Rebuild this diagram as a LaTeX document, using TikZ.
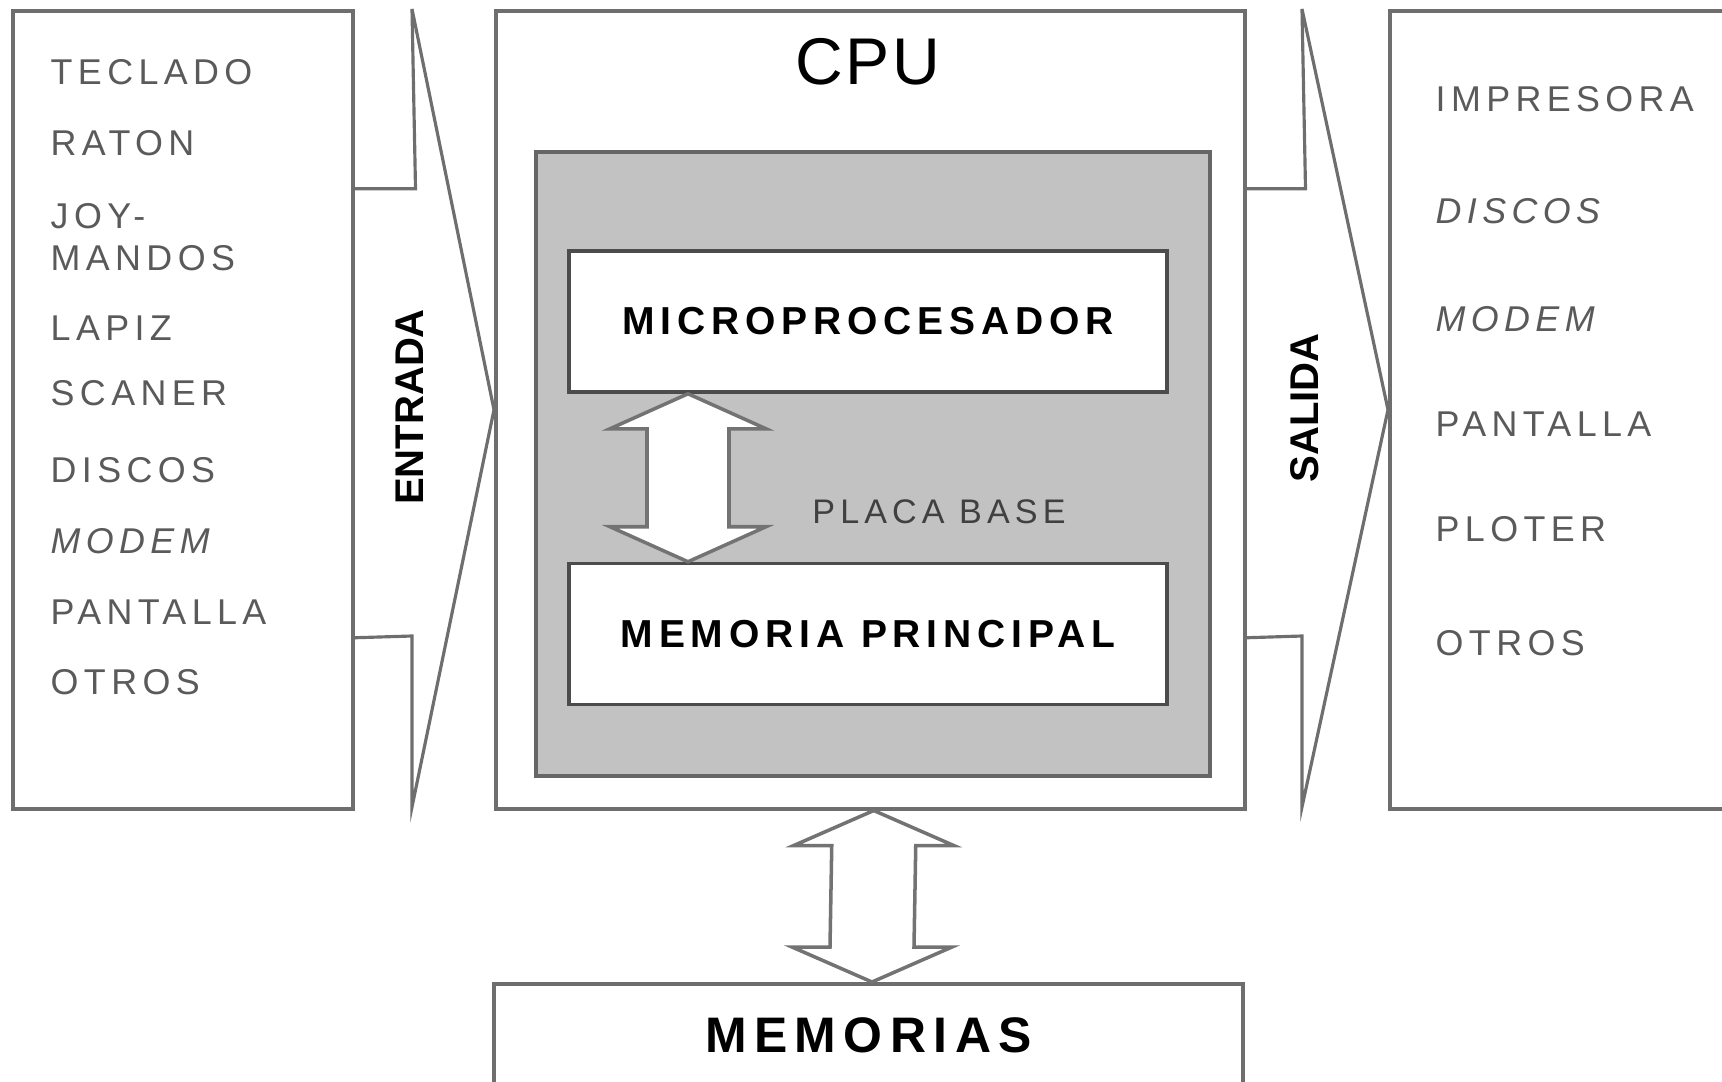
\documentclass[tikz,border=0pt]{standalone}
\usepackage{fontspec}
\setmainfont{Liberation Sans}[LetterSpace=15]
\newfontfamily\cpufont{Liberation Sans}[LetterSpace=4]
\newfontfamily\plainfont{Liberation Sans}
\definecolor{edge}{HTML}{6E6E6E}
\definecolor{plate}{HTML}{C2C2C2}
\definecolor{itemtxt}{HTML}{5A5A5A}
\begin{document}
\begin{tikzpicture}[
    box/.style   ={draw=edge, line width=1pt, fill=white},
    inbox/.style ={draw=black!70, line width=1pt, fill=white, minimum width=5.98cm, minimum height=1.41cm,
                   font=\fontsize{11.1}{13}\selectfont\bfseries},
    item/.style  ={anchor=west, inner sep=0pt, text=itemtxt, font=\fontsize{10.2}{12}\selectfont, align=left},
    flow/.style  ={draw=edge, line width=0.9pt, line join=miter},
    dblarr/.style={draw=black!55, line width=1pt, fill=white, line join=miter},
    vlabel/.style={rotate=90, inner sep=0pt, font=\plainfont\fontsize{11.4}{13}\selectfont\bfseries},
  ]
  \useasboundingbox (0,0) rectangle (17.22,-10.82);
  \clip (0,0) rectangle (17.22,-10.82);
  % outer boxes
  \node[box, anchor=north west, minimum width=3.40cm, minimum height=7.98cm] (inp) at (0.11,-0.09) {};
  \node[box, anchor=north west, minimum width=7.49cm, minimum height=7.98cm] (cpu) at (4.94,-0.09) {};
  \node[box, anchor=north west, minimum width=4.00cm, minimum height=7.98cm] (out) at (13.88,-0.09) {};
  \node[box, anchor=north, minimum width=7.49cm, minimum height=1.04cm, font=\fontsize{14.2}{16}\selectfont\bfseries] (mem) at (8.685,-9.82) {MEMORIAS};
  \node[font=\cpufont\fontsize{18.8}{22}\selectfont, text=black, inner sep=0pt] (cpulbl) at (8.68,-0.62) {CPU};

  % placa base
  \node[draw=black!60, line width=1pt, fill=plate, anchor=north west, minimum width=6.74cm, minimum height=6.24cm] (placa) at (5.34,-1.50) {};
  \node[inbox] (micro) at (8.68,-3.215) {MICROPROCESADOR};
  \node[inbox] (memp) at (8.68,-6.34) {MEMORIA PRINCIPAL};
  \node[font=\fontsize{9.7}{12}\selectfont, text=black!75, inner sep=0pt] (placalbl) at (9.39,-5.12) {PLACA BASE};

  % big double arrows
  \coordinate (a1) at ([xshift=-1.8cm]micro.south);
  \coordinate (a2) at ([xshift=-1.8cm]memp.north);
  \draw[dblarr] (a1) -- ++(0.78,-0.35) -- ++(-0.37,0) -- ([xshift=0.41cm,yshift=0.35cm]a2) -- ++(0.37,0) -- (a2)
    -- ++(-0.78,0.35) -- ++(0.37,0) -- ([xshift=-0.41cm,yshift=-0.35cm]a1) -- ++(-0.37,0) -- cycle;
  \coordinate (b1) at ([xshift=0.035cm]cpu.south);
  \coordinate (b2) at ([xshift=0.035cm]mem.north);
  \draw[dblarr] (b1) -- ++(0.8,-0.35) -- ++(-0.38,0) -- ([xshift=0.42cm,yshift=0.35cm]b2) -- ++(0.38,0) -- (b2)
    -- ++(-0.8,0.35) -- ++(0.38,0) -- ([xshift=-0.42cm,yshift=-0.35cm]b1) -- ++(-0.38,0) -- cycle;

  % entrada / salida
  \draw[flow] ([yshift=2.21cm]inp.east) -- ++(0.61,0) -- (4.12,-0.09) -- (cpu.west) -- (4.12,-8.07) -- ++(0,1.71)
    -- ([yshift=-2.28cm]inp.east);
  \draw[flow] ([yshift=2.21cm]cpu.east) -- ++(0.59,0) -- (13.02,-0.09) -- (out.west) -- (13.02,-8.07) -- ++(0,1.71)
    -- ([yshift=-2.28cm]cpu.east);
  \node[vlabel] (entr) at (4.10,-4.07) {ENTRADA};
  \node[vlabel] (sal) at (13.05,-4.08) {SALIDA};

  % input devices
  \node[item] (teclado) at (0.50,-0.72) {TECLADO};
  \node[item] (raton) at (0.50,-1.43) {RATON};
  \node[item] (joy) at (0.50,-2.37) {JOY-\\MANDOS};
  \node[item] (lapiz) at (0.50,-3.28) {LAPIZ};
  \node[item] (scaner) at (0.50,-3.93) {SCANER};
  \node[item] (discosin) at (0.50,-4.70) {DISCOS};
  \node[item] (modemin) at (0.50,-5.41) {\itshape MODEM};
  \node[item] (pantin) at (0.50,-6.12) {PANTALLA};
  \node[item] (otrosin) at (0.50,-6.82) {OTROS};

  % output devices
  \node[item] (impr) at (14.35,-0.99) {IMPRESORA};
  \node[item] (discosout) at (14.35,-2.11) {\itshape DISCOS};
  \node[item] (modemout) at (14.35,-3.19) {\itshape MODEM};
  \node[item] (pantout) at (14.35,-4.24) {PANTALLA};
  \node[item] (ploter) at (14.35,-5.29) {PLOTER};
  \node[item] (otrosout) at (14.35,-6.43) {OTROS};
\end{tikzpicture}
\end{document}
